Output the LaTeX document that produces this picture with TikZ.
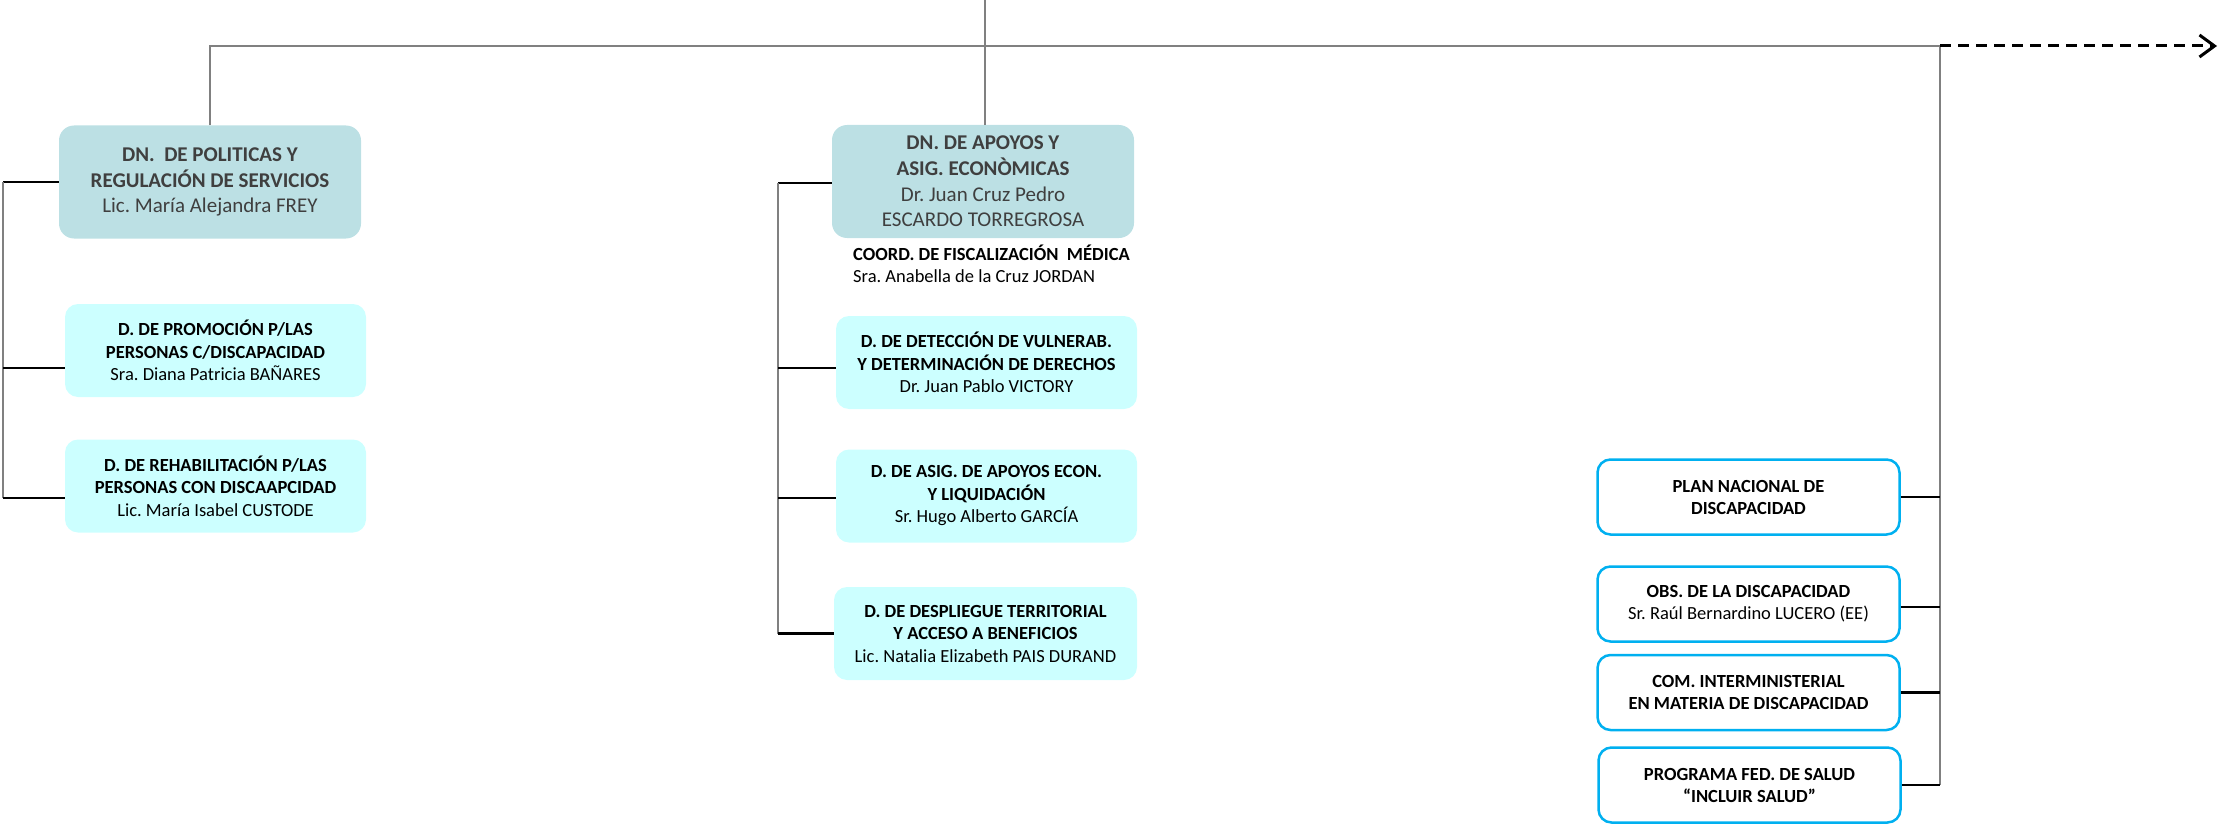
\documentclass[tikz,border=0pt]{standalone}
\usepackage{fontspec}
\setmainfont{Carlito}
\usetikzlibrary{arrows.meta}
\frenchspacing
\definecolor{topfill}{HTML}{BCE0E4}
\definecolor{subfill}{HTML}{CCFFFF}
\definecolor{bluebd}{HTML}{00B0F0}
\definecolor{linegray}{HTML}{808080}
\definecolor{txtgray}{HTML}{3F3F3F}
\tikzset{
  topbox/.style={fill=topfill, rounded corners=15pt, inner sep=0pt, align=center,
    text=txtgray, font=\fontsize{21}{25.7}\selectfont, minimum width=302pt, minimum height=113pt},
  subbox/.style={fill=subfill, rounded corners=13pt, inner sep=0pt, align=center,
    text=black, font=\fontsize{18.5}{22.5}\selectfont, minimum width=301pt, minimum height=93pt},
  rbox/.style={draw=bluebd, line width=2.5pt, fill=white, rounded corners=13pt, inner sep=0pt,
    align=center, text=black, font=\fontsize{18.5}{22}\selectfont, minimum width=302pt, minimum height=75pt},
  spine/.style={draw=linegray, line width=2pt},
  tick/.style={draw=black, line width=2.5pt},
  mainline/.style={draw=linegray, line width=2.2pt},
}
\begin{document}
\begin{tikzpicture}[x=1pt,y=-1pt]
\useasboundingbox (0,0) rectangle (2219,824);

% top-level boxes
\node[topbox] (pol) at (210,182) {\textbf{DN.~ DE POLITICAS Y}\\\textbf{REGULACIÓN DE SERVICIOS}\\Lic. María Alejandra FREY};
\node[topbox] (apo) at (983,181.5) {\textbf{DN. DE APOYOS Y}\\\textbf{ASIG. ECONÒMICAS}\\Dr. Juan Cruz Pedro\\ESCARDO TORREGROSA};

% left column
\node[subbox] (prom) at (215.5,350.5) {\textbf{D. DE PROMOCIÓN P/LAS}\\\textbf{PERSONAS C/DISCAPACIDAD}\\Sra. Diana Patricia BAÑARES};
\node[subbox] (rehab) at (215.5,486) {\textbf{D. DE REHABILITACIÓN P/LAS}\\\textbf{PERSONAS CON DISCAAPCIDAD}\\Lic. María Isabel CUSTODE};

% middle column
\node[anchor=west, align=left, inner sep=0pt, font=\fontsize{18.5}{22}\selectfont] (coord) at (853,264)
  {\textbf{COORD. DE FISCALIZACIÓN~ MÉDICA}\\Sra. Anabella de la Cruz JORDAN};
\node[subbox] (det) at (986.5,362.5) {\textbf{D. DE DETECCIÓN DE VULNERAB.}\\\textbf{Y DETERMINACIÓN DE DERECHOS}\\Dr. Juan Pablo VICTORY};
\node[subbox] (asig) at (986.5,496) {\textbf{D. DE ASIG. DE APOYOS ECON.}\\\textbf{Y LIQUIDACIÓN}\\Sr. Hugo Alberto GARCÍA};
\node[subbox, minimum width=303pt] (desp) at (985.5,633.5) {\textbf{D. DE DESPLIEGUE TERRITORIAL}\\\textbf{Y ACCESO A BENEFICIOS}\\Lic. Natalia Elizabeth PAIS DURAND};

% right column
\node[rbox] (plan) at (1748.5,497) {\textbf{PLAN NACIONAL DE}\\\textbf{DISCAPACIDAD}};
\node[rbox] (obs) at (1748.5,604) {\textbf{OBS. DE LA DISCAPACIDAD}\\Sr. Raúl Bernardino LUCERO (EE)};
\node[rbox] (com) at (1748.5,692.5) {\textbf{COM. INTERMINISTERIAL}\\\textbf{EN MATERIA DE DISCAPACIDAD}};
\node[rbox] (prog) at (1749.5,785) {\textbf{PROGRAMA FED. DE SALUD}\\\textbf{“INCLUIR SALUD”}};

% coordinates
\coordinate (topin) at (985,0);
\coordinate (hr) at (1940,46);
\coordinate (arrowend) at (2217,46);
\coordinate (lsp) at (3,182);
\coordinate (msp) at (778,183);

% main lines
\draw[mainline] (topin) -- (topin |- apo.north);
\draw[mainline] (pol.north) |- (hr) -- (hr |- prog.east);
\draw[black, line width=3pt, dash pattern=on 11pt off 7pt,
  -{Straight Barb[length=15pt, width=22pt, line width=3pt]}] (hr) -- (arrowend);

% left spine
\draw[tick] (lsp) -- (pol.west);
\draw[spine] (lsp) -- ([yshift=-12pt]rehab.west -| lsp);
\draw[tick] ([yshift=-17.5pt]prom.west -| lsp) -- ([yshift=-17.5pt]prom.west);
\draw[tick] ([yshift=-12pt]rehab.west -| lsp) -- ([yshift=-12pt]rehab.west);

% middle spine
\draw[tick] (msp) -- (apo.west |- msp);
\draw[spine] (msp) -- (msp |- desp.west);
\draw[tick] ([yshift=-5.5pt]det.west -| msp) -- ([yshift=-5.5pt]det.west);
\draw[tick] ([yshift=-2pt]asig.west -| msp) -- ([yshift=-2pt]asig.west);
\draw[tick] (desp.west -| msp) -- (desp.west);

% right ticks
\draw[tick] (plan.east) -- (plan.east -| hr);
\draw[tick] ([yshift=-3pt]obs.east) -- ([yshift=-3pt]obs.east -| hr);
\draw[tick] (com.east) -- (com.east -| hr);
\draw[tick] (prog.east) -- (prog.east -| hr);
\end{tikzpicture}
\end{document}
